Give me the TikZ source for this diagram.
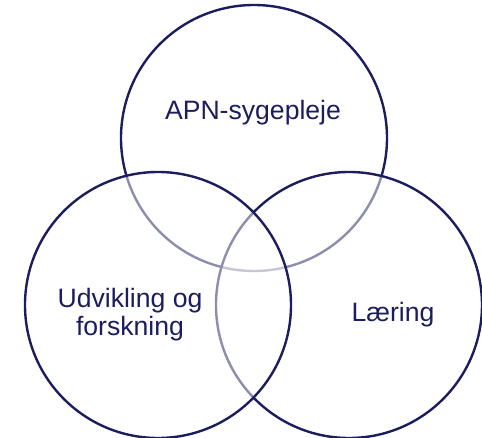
\documentclass[tikz,border=0pt]{standalone}
\usepackage{fontspec}
\setmainfont{Liberation Sans}
\definecolor{navy}{RGB}{27,29,94}
\begin{document}
\begin{tikzpicture}[x=1pt,y=-1pt,
  ring/.style={circle, draw=navy, line width=2.4pt, fill=white, fill opacity=0.5,
    draw opacity=1, inner sep=0pt, minimum size=266pt},
  label/.style={text=navy, font=\fontsize{26.6}{28}\selectfont, align=center, text opacity=1}]
  \useasboundingbox (0,0) rectangle (482,438);
  % circles: each translucent fill softens the outlines beneath it
  \node[ring] (apn) at (254,138) {};
  \node[ring] (laer) at (349,305) {};
  \node[ring] (udv) at (158,305) {};
  % captions
  \node[label, anchor=base] (tapn) at (253,120) {APN-sygepleje};
  \node[label, anchor=base] (tudv) at (130,335) {Udvikling og\\forskning};
  \node[label, anchor=base] (tlaer) at (393,322) {Læring};
\end{tikzpicture}
\end{document}
